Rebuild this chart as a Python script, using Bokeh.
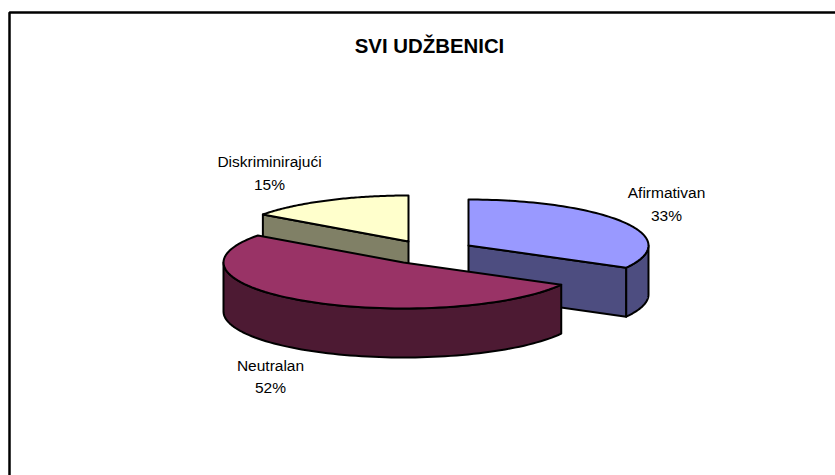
import numpy as np
from bokeh.plotting import figure
from bokeh.embed import file_html
from bokeh.resources import INLINE
from bokeh.core.properties import value

categories = ["Afirmativan", "Neutralan", "Diskriminirajući"]
shares = [33, 52, 15]
percent_labels = ["33%", "52%", "15%"]
top_colors = ["#9999FF", "#993366", "#FFFFCC"]
wall_colors = ["#4D4D80", "#4D1A33", "#808066"]
title_text = "SVI UDŽBENICI"

RX, RY, DEPTH = 180, 46, 49
apexes = [(468, 245), (403, 262), (408, 241)]
label_x = [666, 270, 269]
name_y = [192, 365, 161]
pct_y = [215, 387, 184]

p = figure(width=835, height=475, x_range=(0, 835), y_range=(475, 0),
           toolbar_location=None, output_backend="svg", min_border=0,
           outline_line_color=None)
p.axis.visible = False
p.grid.visible = False
p.background_fill_color = "white"
p.border_fill_color = "white"

def rim(cx, cy, a0, a1, n=80):
    t = np.radians(np.linspace(a0, a1, n))
    return cx + RX * np.sin(t), cy - RY * np.cos(t)

def draw(xs, ys, color):
    p.patch(list(xs), list(ys), fill_color=color, line_color="black", line_width=2, line_join="round")

edges = np.concatenate([[0], np.cumsum(shares)]) * 3.6
for i in [0, 2, 1]:
    cx, cy = apexes[i]
    a0, a1 = edges[i], edges[i + 1]
    # cut faces that look towards the viewer
    for a in (a0, a1):
        if (i == 0 and a == a1) or (i == 2 and a == a0):
            ex, ey = rim(cx, cy, a, a, 1)
            draw([cx, ex[0], ex[0], cx], [cy, ey[0], ey[0] + DEPTH, cy + DEPTH], wall_colors[i])
    # outer wall: the front part of the rim
    w0, w1 = max(a0, 90), min(a1, 270)
    if w0 < w1:
        wx, wy = rim(cx, cy, w0, w1)
        draw(np.concatenate([wx, wx[::-1]]), np.concatenate([wy, wy[::-1] + DEPTH]), wall_colors[i])
    # top face
    tx, ty = rim(cx, cy, a0, a1)
    draw(np.concatenate([[cx], tx]), np.concatenate([[cy], ty]), top_colors[i])

# chart-area frame: left and top edges (the rest is cropped)
p.line([9, 9, 835], [475, 12, 12], line_color="black", line_width=2.5)

p.text([429], [45], text=[title_text], text_align="center", text_baseline="middle",
       text_font=value("Liberation Sans"), text_font_style="bold", text_font_size="20.4px", text_color="black")
p.text(label_x, name_y, text=categories, text_align="center", text_baseline="middle",
       text_font=value("Liberation Sans"), text_font_size="15.5px", text_color="black")
p.text(label_x, pct_y, text=percent_labels, text_align="center", text_baseline="middle",
       text_font=value("Liberation Sans"), text_font_size="15.5px", text_color="black")

open("out.html", "w").write(file_html(p, INLINE))
